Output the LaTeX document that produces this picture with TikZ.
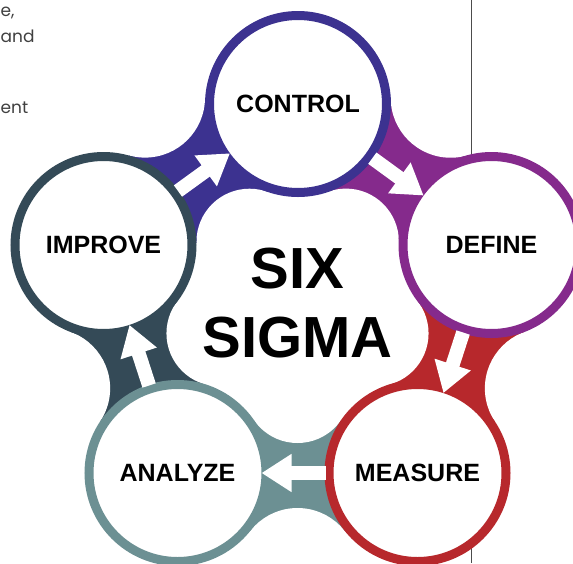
\documentclass[tikz,border=0pt]{standalone}
\usepackage{fontspec}
\setmainfont{Liberation Sans}
\newfontfamily\notefont{Poppins}
\usetikzlibrary{calc,arrows.meta}
\pgfdeclarelayer{bg}
\pgfsetlayers{bg,main}
\definecolor{ctlcol}{HTML}{3C3290}
\definecolor{defcol}{HTML}{852A8C}
\definecolor{meacol}{HTML}{B7282C}
\definecolor{anacol}{HTML}{6C9093}
\definecolor{impcol}{HTML}{344A57}
\definecolor{notecol}{HTML}{404040}
\tikzset{
  stage/.style={circle, draw=#1, line width=9pt, fill=white, minimum size=177pt,
    inner sep=0pt, font=\fontsize{25}{30}\selectfont\bfseries},
  flow/.style={draw=white, line width=14pt, -{Triangle[length=30pt,width=36pt]},
    shorten >=-9pt, shorten <=-1pt},
  bigword/.style={anchor=base, inner sep=0pt, font=\fontsize{58}{70}\selectfont\bfseries},
  note/.style={anchor=base west, inner sep=0pt, text=notecol, font=\notefont\fontsize{17}{20}\selectfont},
  rule/.style={draw=black!70, line width=0.8pt}
}
\begin{document}
\begin{tikzpicture}[x=1pt, y=-1pt]
\useasboundingbox (0,0) rectangle (573,563);
\node[stage=ctlcol] (control) at (298, 104) {CONTROL};
\node[stage=defcol] (define) at (491.5, 245) {DEFINE};
\node[stage=meacol] (measure) at (417.5, 473) {MEASURE};
\node[stage=anacol] (analyze) at (177.5, 473) {ANALYZE};
\node[stage=impcol] (improve) at (103.5, 245) {IMPROVE};
\begin{pgfonlayer}{bg}
  \foreach \a/\b/\c in {control/define/defcol, define/measure/meacol, measure/analyze/anacol,
      analyze/improve/impcol, improve/control/ctlcol}
    \fill[\c] (\a.center) -- ($(\a)!0.5!(\b)!95pt!90:(\b)$) -- (\b.center)
      -- ($(\a)!0.5!(\b)!83pt!-90:(\b)$) -- cycle;
  \foreach \a/\b in {control/define, define/measure, measure/analyze, analyze/improve, improve/control}{
    \fill[white] ($(\a)!0.5!(\b)!95pt!90:(\b)$) circle (60);
    \fill[white] ($(\a)!0.5!(\b)!83pt!-90:(\b)$) circle (53);
  }
  \draw[rule] (471,0) -- (471,200);
  \draw[rule] (471,400) -- (471,563);
\end{pgfonlayer}
\draw[flow] (control) -- (define);
\draw[flow] (define) -- (measure);
\draw[flow] (measure) -- (analyze);
\draw[flow] (analyze) -- (improve);
\draw[flow] (improve) -- (control);
\node[bigword] (six) at (297.5, 288) {SIX};
\node[bigword] (sigma) at (297.5, 357) {SIGMA};
\node[note] (line1) at (0.5, 16.5) {e,};
\node[note] (line2) at (0.5, 42.5) {and};
\node[note] (line3) at (0.5, 113) {ent};
\end{tikzpicture}
\end{document}
